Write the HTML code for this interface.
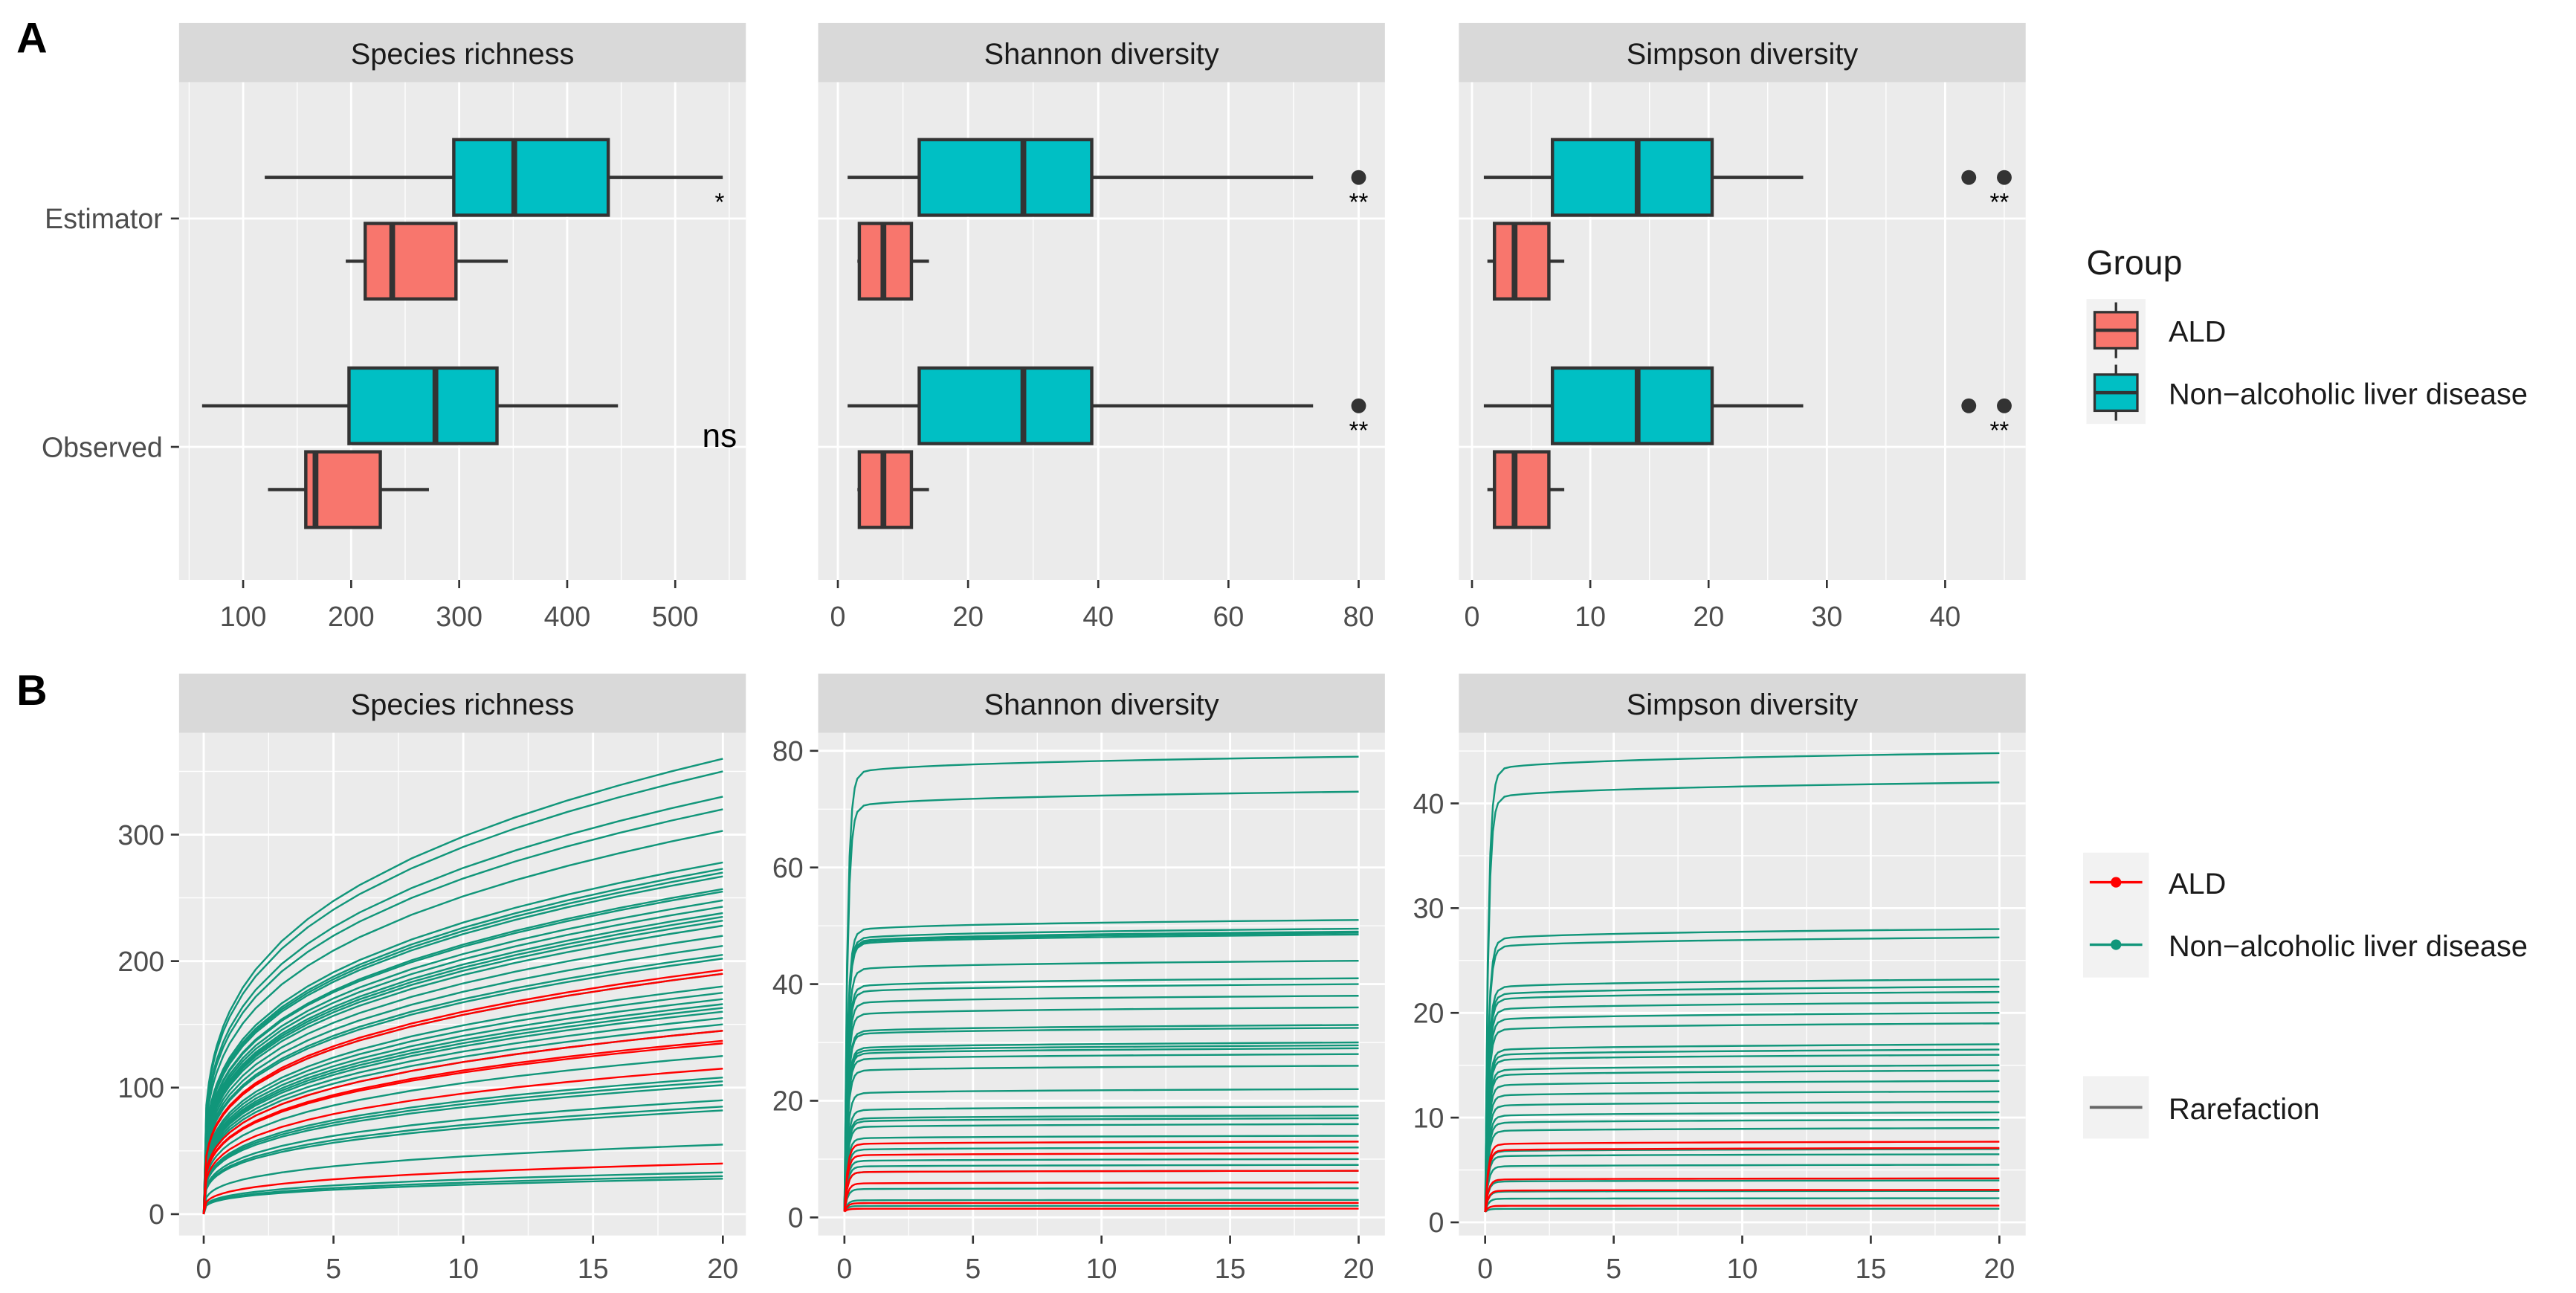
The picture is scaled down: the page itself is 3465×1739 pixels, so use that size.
<!DOCTYPE html>
<html><head><meta charset="utf-8"><style>
html,body{margin:0;padding:0;background:#fff;}
svg{display:block;font-family:"Liberation Sans",sans-serif;}
</style></head><body>
<svg id="fig" width="3465" height="1739" viewBox="0 0 1568 787" preserveAspectRatio="none" xmlns="http://www.w3.org/2000/svg">
<rect width="1568" height="787" fill="#fff"/>
<text x="10" y="32" font-size="26" font-weight="bold" fill="#000">A</text>
<text x="10" y="429" font-size="26" font-weight="bold" fill="#000">B</text>
<g id="root"></g>
</svg>
<script>
// ---------- data ----------
const boxCategories = ["Estimator", "Observed"];
const boxFacets = ["Species richness", "Shannon diversity", "Simpson diversity"];
// [whiskerLow, q1, median, q3, whiskerHigh] per facet, category
const teal_richness = [[120, 295, 351, 438, 544], [62, 198, 278, 335, 447]];
const red_richness = [[195, 213, 238, 297, 345], [123, 158, 167, 227, 272]];
const teal_shannon = [[1.5, 12.5, 28.5, 39, 73], [1.5, 12.5, 28.5, 39, 73]];
const red_shannon = [[3, 3.3, 7, 11.3, 14], [3, 3.3, 7, 11.3, 14]];
const teal_simpson = [[1, 6.8, 14, 20.3, 28], [1, 6.8, 14, 20.3, 28]];
const red_simpson = [[1.3, 1.9, 3.6, 6.5, 7.8], [1.3, 1.9, 3.6, 6.5, 7.8]];
const outliers_shannon = [80];
const outliers_simpson = [42, 45];
const signif = [["*", "ns"], ["**", "**"], ["**", "**"]];
const boxTicks_richness = [100, 200, 300, 400, 500];
const boxTicks_shannon = [0, 20, 40, 60, 80];
const boxTicks_simpson = [0, 10, 20, 30, 40];

const rareX = [0, 0.1, 0.2, 0.3, 0.4, 0.5, 0.75, 1, 1.5, 2, 3, 4, 5, 6, 8, 10, 12, 14, 16, 18, 20];
const richEnd_green = [360, 350, 330, 320, 303, 278, 273, 270, 267, 257, 255, 248, 243, 238, 235, 232, 228, 220, 212, 205, 202, 190, 180, 175, 170, 166, 163, 160, 155, 150, 145, 125, 108, 105, 102, 90, 85, 82, 55, 33, 30, 28];
const richEnd_red = [193, 190, 145, 137, 135, 115, 40];
const shanEnd_green = [79, 73, 51, 49.5, 49, 48.8, 48.5, 44, 41, 40, 38, 36, 33, 32.5, 30, 29.5, 29, 28, 26, 22, 19, 17.5, 17, 16, 14, 12, 10, 9, 8, 5, 3, 2];
const shanEnd_red = [13, 11, 8, 6, 2.5, 1.5];
const simpEnd_green = [44.8, 42, 28, 27.2, 23.2, 22.5, 22, 21, 20, 19, 17, 16.5, 16, 15, 14.5, 13.5, 12.5, 11.5, 10.5, 9.8, 9, 7, 6.5, 5.5, 4, 3, 2.3, 1.3];
const simpEnd_red = [7.7, 7.1, 4.2, 3.1, 1.6];
const rareYTicks_richness = [0, 100, 200, 300];
const rareYTicks_shannon = [0, 20, 40, 60, 80];
const rareYTicks_simpson = [0, 10, 20, 30, 40];
const rareXTicks = [0, 5, 10, 15, 20];

// ---------- helpers ----------
const NS = "http://www.w3.org/2000/svg";
const root = document.getElementById("root");
function mk(tag, attrs, parent) {
  const e = document.createElementNS(NS, tag);
  for (const k in attrs) e.setAttribute(k, attrs[k]);
  (parent || root).appendChild(e);
  return e;
}
function lin(d0, d1, r0, r1) { return v => r0 + (v - d0) * (r1 - r0) / (d1 - d0); }

const panelsX = [[109, 454], [498, 843], [888, 1233]];
const TXT = "#4D4D4D";

// ---------- Panel A ----------
const aTop = 50, aBot = 353;
const catY = { Estimator: 133, Observed: 272 };
const aScales = [lin(100, 500, 148, 411), lin(0, 80, 510, 827), lin(0, 40, 896, 1184)];
const aTicks = [boxTicks_richness, boxTicks_shannon, boxTicks_simpson];
const aMinor = [[50, 150, 250, 350, 450, 550], [10, 30, 50, 70], [5, 15, 25, 35, 45]];
const tealData = [teal_richness, teal_shannon, teal_simpson];
const redData = [red_richness, red_shannon, red_simpson];
const outData = [[], outliers_shannon, outliers_simpson];

function strip(x0, x1, y0, label, nm) {
  const s = mk("rect", { x: x0, y: y0, width: x1 - x0, height: 36, fill: "#D9D9D9" });
  
  
  const t = mk("text", { x: (x0 + x1) / 2, y: y0 + 25, "font-size": 18, "text-anchor": "middle", fill: "#1A1A1A" });
  t.textContent = label;
  
  
}

function drawBox(g, sx, d, yc, fill, nm) {
  const h = 23;
  const w = mk("line", { x1: sx(d[0]), x2: sx(d[4]), y1: yc, y2: yc, stroke: "#333", "stroke-width": 2 }, g);
  
  
  const r = mk("rect", { x: sx(d[1]), y: yc - h, width: sx(d[3]) - sx(d[1]), height: 2 * h, fill: fill, stroke: "#333", "stroke-width": 2 }, g);
  
  
  const m = mk("line", { x1: sx(d[2]), x2: sx(d[2]), y1: yc - h, y2: yc + h, stroke: "#333", "stroke-width": 3.5 }, g);
  
  
}

for (let p = 0; p < 3; p++) {
  const [x0, x1] = panelsX[p];
  const sx = aScales[p];
  const nm = 'a-' + boxFacets[p].toLowerCase().replace(/ /g, '-');
  strip(x0, x1, 14, boxFacets[p], nm);
  const bg = mk("rect", { x: x0, y: aTop, width: x1 - x0, height: aBot - aTop, fill: "#EBEBEB" });
  
  
  aMinor[p].forEach(v => { const X = sx(v); if (X > x0 && X < x1) mk("line", { x1: X, x2: X, y1: aTop, y2: aBot, stroke: "#fff", "stroke-width": 0.6 }); });
  aTicks[p].forEach(v => {
    const X = sx(v);
    mk("line", { x1: X, x2: X, y1: aTop, y2: aBot, stroke: "#fff", "stroke-width": 1.3 });
    mk("line", { x1: X, x2: X, y1: aBot, y2: aBot + 5, stroke: "#333", "stroke-width": 1.2 });
    const t = mk("text", { x: X, y: aBot + 28, "font-size": 17, "text-anchor": "middle", fill: TXT });
    t.textContent = v;
    
    
  });
  boxCategories.forEach(c => mk("line", { x1: x0, x2: x1, y1: catY[c], y2: catY[c], stroke: "#fff", "stroke-width": 1.3 }));
  const g = mk("g", {});
  
  
  boxCategories.forEach((c, ci) => {
    drawBox(g, sx, tealData[p][ci], catY[c] - 25, "#00BFC4", nm + '-' + c.toLowerCase() + '-nald');
    drawBox(g, sx, redData[p][ci], catY[c] + 26, "#F8766D", nm + '-' + c.toLowerCase() + '-ald');
    outData[p].forEach(v => {
      const o = mk("circle", { cx: sx(v), cy: catY[c] - 25, r: 4.5, fill: "#333" }, g);
      
      
    });
    const lab = signif[p][ci];
    const big = lab === "ns";
    const st = mk("text", { x: x1 - 16, y: big ? catY[c] : catY[c] - 5, "font-size": big ? 20 : 15, "text-anchor": "middle", fill: "#000" });
    st.textContent = lab;
    
    
  });
  if (p === 0) {
    boxCategories.forEach(c => {
      mk("line", { x1: x0 - 5, x2: x0, y1: catY[c], y2: catY[c], stroke: "#333", "stroke-width": 1.2 });
      const t = mk("text", { x: x0 - 10, y: catY[c] + 6, "font-size": 17, "text-anchor": "end", fill: TXT });
      t.textContent = c;
      
      
    });
  }
}

// Legend A
const lgA = mk("g", {});


{
  const t = mk("text", { x: 1270, y: 167, "font-size": 21, fill: "#1A1A1A" }, lgA); t.textContent = "Group";
  mk("rect", { x: 1270, y: 182, width: 36, height: 76, fill: "#F2F2F2" }, lgA);
  [["ALD", "#F8766D", 201], ["Non\u2212alcoholic liver disease", "#00BFC4", 239]].forEach(([lab, col, y]) => {
    mk("line", { x1: 1288, x2: 1288, y1: y - 17, y2: y + 17, stroke: "#333", "stroke-width": 1.5 }, lgA);
    mk("rect", { x: 1275, y: y - 11, width: 26, height: 22, fill: col, stroke: "#333", "stroke-width": 1.5 }, lgA);
    mk("line", { x1: 1275, x2: 1301, y1: y, y2: y, stroke: "#333", "stroke-width": 2 }, lgA);
    const tt = mk("text", { x: 1320, y: y + 7, "font-size": 18, fill: "#1A1A1A" }, lgA);
    tt.textContent = lab;
    
    
  });
}

// ---------- Panel B ----------
const bTop = 446, bBot = 752;
const bxScales = [lin(0, 20, 124, 440), lin(0, 20, 514, 827), lin(0, 20, 904, 1217)];
const byScales = [lin(0, 300, 739, 508), lin(0, 80, 741, 457), lin(0, 40, 744, 489)];
const bYTicks = [rareYTicks_richness, rareYTicks_shannon, rareYTicks_simpson];
const bGreen = [richEnd_green, shanEnd_green, simpEnd_green];
const bRed = [richEnd_red, shanEnd_red, simpEnd_red];
const bStart = [0, 1, 1];

function shape(p, x) {
  if (p === 0) return Math.pow(x / 20, 0.27);
  return (1 - Math.exp(-x / 0.12)) * (0.95 + 0.05 * Math.pow(x / 20, 0.3));
}

for (let p = 0; p < 3; p++) {
  const [x0, x1] = panelsX[p];
  const sx = bxScales[p], sy = byScales[p];
  const nm = 'b-' + boxFacets[p].toLowerCase().replace(/ /g, '-');
  strip(x0, x1, 410, boxFacets[p], nm);
  const bg = mk("rect", { x: x0, y: bTop, width: x1 - x0, height: bBot - bTop, fill: "#EBEBEB" });
  
  
  [2.5, 7.5, 12.5, 17.5].forEach(v => mk("line", { x1: sx(v), x2: sx(v), y1: bTop, y2: bBot, stroke: "#fff", "stroke-width": 0.6 }));
  const yt = bYTicks[p];
  const step = yt[1] - yt[0];
  for (let v = -step / 2; v < yt[yt.length - 1] + step; v += step) {
    const Y = sy(v); if (Y > bTop && Y < bBot) mk("line", { x1: x0, x2: x1, y1: Y, y2: Y, stroke: "#fff", "stroke-width": 0.6 });
  }
  rareXTicks.forEach(v => {
    const X = sx(v);
    mk("line", { x1: X, x2: X, y1: bTop, y2: bBot, stroke: "#fff", "stroke-width": 1.3 });
    mk("line", { x1: X, x2: X, y1: bBot, y2: bBot + 5, stroke: "#333", "stroke-width": 1.2 });
    const t = mk("text", { x: X, y: bBot + 26, "font-size": 17, "text-anchor": "middle", fill: TXT });
    t.textContent = v;
    
    
  });
  yt.forEach(v => {
    const Y = sy(v);
    mk("line", { x1: x0, x2: x1, y1: Y, y2: Y, stroke: "#fff", "stroke-width": 1.3 });
    mk("line", { x1: x0 - 5, x2: x0, y1: Y, y2: Y, stroke: "#333", "stroke-width": 1.2 });
    const t = mk("text", { x: x0 - 9, y: Y + 6, "font-size": 17, "text-anchor": "end", fill: TXT });
    t.textContent = v;
    
    
  });
  const g = mk("g", {});
  
  
  const draw = (ends, col, grp) => ends.forEach(e => {
    const s0 = bStart[p];
    const pts = rareX.map(x => sx(x).toFixed(2) + "," + sy(s0 + (e - s0) * shape(p, x)).toFixed(2)).join(" ");
    const l = mk("polyline", { points: pts, fill: "none", stroke: col, "stroke-width": 1.1 }, g);
    
    
  });
  draw(bGreen[p], "#11967A", "nald");
  draw(bRed[p], "#FF0000", "ald");
}

// Legend B
const lgB = mk("g", {});


{
  mk("rect", { x: 1268, y: 519, width: 40, height: 76, fill: "#F2F2F2" }, lgB);
  [["ALD", "#FF0000", 537], ["Non\u2212alcoholic liver disease", "#11967A", 575]].forEach(([lab, col, y]) => {
    mk("line", { x1: 1272, x2: 1304, y1: y, y2: y, stroke: col, "stroke-width": 1.5 }, lgB);
    mk("circle", { cx: 1288, cy: y, r: 3.2, fill: col }, lgB);
    const tt = mk("text", { x: 1320, y: y + 7, "font-size": 18, fill: "#1A1A1A" }, lgB);
    tt.textContent = lab;
    
    
  });
  mk("rect", { x: 1268, y: 655, width: 40, height: 38, fill: "#F2F2F2" }, lgB);
  mk("line", { x1: 1272, x2: 1304, y1: 674, y2: 674, stroke: "#666", "stroke-width": 1.8 }, lgB);
  const tt = mk("text", { x: 1320, y: 681, "font-size": 18, fill: "#1A1A1A" }, lgB);
  tt.textContent = "Rarefaction";
  
  
}
</script>
</body></html>
